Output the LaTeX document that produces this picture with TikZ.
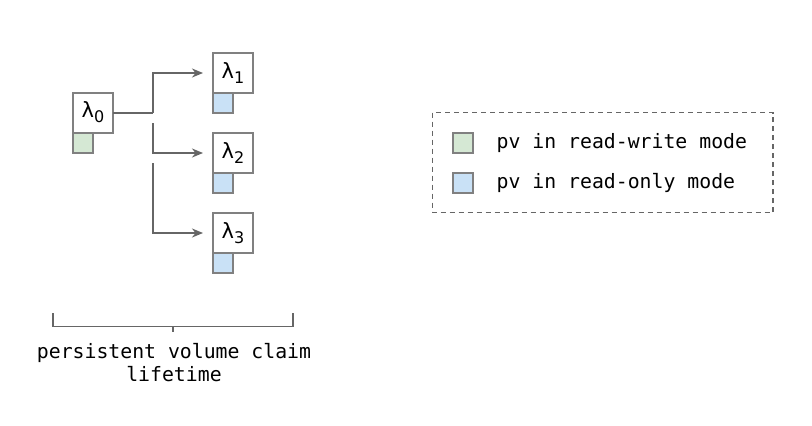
\documentclass[tikz,border=0pt]{standalone}
\usepackage{fontspec}
\usetikzlibrary{arrows.meta}
\newfontfamily\lamfont{DejaVu Sans}
\newfontfamily\monofont{DejaVu Sans Mono}
\definecolor{boxgray}{HTML}{808080}
\definecolor{linegray}{HTML}{666666}
\definecolor{rwgreen}{HTML}{D5E8D4}
\definecolor{robblue}{HTML}{C9E1F6}
\newcommand{\lam}[1]{{\lamfont\fontsize{21}{24}\selectfont λ\raisebox{-5pt}{\fontsize{16}{18}\selectfont #1}}}
\tikzset{
  x=1pt, y=-1pt,
  sq/.style={draw=boxgray, line width=2pt, inner sep=0pt, outer sep=0pt, anchor=north west},
  fnbox/.style={sq, fill=white, minimum width=40pt, minimum height=40pt},
  pvrw/.style={sq, fill=rwgreen, minimum width=20pt, minimum height=20pt},
  pvro/.style={sq, fill=robblue, minimum width=20pt, minimum height=20pt},
  conn/.style={draw=linegray, line width=2pt},
  arr/.style={conn, -{Stealth[length=11pt,width=9pt,inset=3.5pt]}, shorten >=10pt},
  mono/.style={font=\monofont\fontsize{19.8}{24}\selectfont, text=black, inner sep=0pt},
  legend/.style={draw=linegray, line width=1.8pt, dash pattern=on 5pt off 4pt},
}
\begin{document}
\begin{tikzpicture}
\useasboundingbox (0,0) rectangle (812,426);
\fill[white] (0,0) rectangle (812,426);
% function boxes
\node[fnbox] (l0) at (73,92.5) {\lam{0}};
\node[pvrw] (p0) at (73,132.5) {};
\node[fnbox] (l1) at (213,53) {\lam{1}};
\node[pvro] (p1) at (213,93) {};
\node[fnbox] (l2) at (213,133) {\lam{2}};
\node[pvro] (p2) at (213,173) {};
\node[fnbox] (l3) at (213,213) {\lam{3}};
\node[pvro] (p3) at (213,253) {};
% connectors
\coordinate (j1) at (153,112.5);
\coordinate (s2) at (153,123.3);
\coordinate (s3) at (153,163.3);
\draw[conn] (l0.east) -- (j1);
\draw[arr] (j1) |- (l1.west);
\draw[arr] (s2) |- (l2.west);
\draw[arr] (s3) |- (l3.west);
% bracket
\coordinate (bl) at (53,313);
\coordinate (br) at (293,313);
\coordinate (bm) at (173,326.5);
\coordinate (bt) at (173,332);
\draw[conn, line width=1.8pt] (bl) |- (br|-bm) -- (br);
\draw[conn, line width=1.8pt] (bm) -- (bt);
\node[mono, align=center] (cap) at (174,363) {persistent volume claim\\[-1pt]lifetime};
% legend
\draw[legend] (432.5,112.5) rectangle (773,212.5);
\node[pvrw] (k1) at (453,133.3) {};
\node[pvro] (k2) at (453,173) {};
\node[mono, anchor=west] (t1) at (496.5,143.3) {pv in read-write mode};
\node[mono, anchor=west] (t2) at (496.5,183) {pv in read-only mode};
\end{tikzpicture}
\end{document}
